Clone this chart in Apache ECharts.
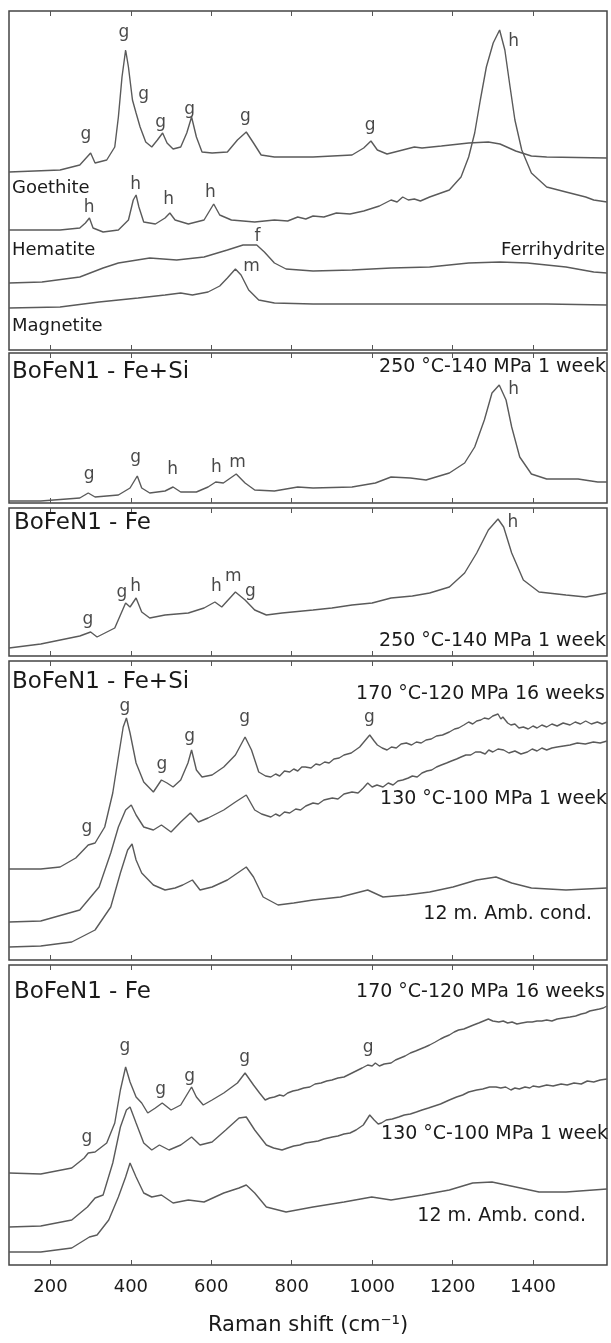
<!DOCTYPE html>
<html>
<head>
<meta charset="utf-8">
<title>Raman spectra</title>
<script src="https://cdn.jsdelivr.net/npm/echarts@6/dist/echarts.min.js"></script>
<style>
  html, body { margin: 0; padding: 0; background: #fff; }
  #chart { width: 611px; height: 1343px; }
</style>
</head>
<body>
<div id="chart"></div>
<script>
// x ticks (Raman shift, cm-1)
const xTicks = [200, 400, 600, 800, 1000, 1200, 1400]

// panel 1 - reference minerals (intensity in arbitrary units)
const goethite = [[97,178],[224,180],[273,185],[300,197],[311,187],[340,190],[360,203],[369,233],[378,273],[387,300],[394,283],[404,250],[413,237],[423,223],[437,208],[452,203],[466,210],[479,217],[490,207],[505,201],[524,203],[539,217],[551,233],[563,213],[577,198],[602,197],[640,198],[665,210],[687,218],[705,207],[724,195],[757,193],[853,193],[950,195],[979,202],[997,209],[1013,200],[1037,196],[1076,200],[1105,203],[1124,202],[1172,204],[1240,207],[1289,208],[1318,206],[1357,199],[1396,194],[1434,193],[1584,192]]
const hematite = [[97,120],[224,120],[273,122],[287,127],[297,132],[306,122],[331,118],[369,120],[394,130],[406,150],[413,155],[420,143],[432,128],[461,126],[485,132],[497,137],[510,130],[543,126],[582,130],[597,140],[606,146],[621,135],[650,130],[708,128],[757,130],[790,129],[815,133],[835,131],[853,134],[880,133],[911,137],[945,136],[979,139],[1018,144],[1047,150],[1062,148],[1076,153],[1090,150],[1105,151],[1120,149],[1143,153],[1192,160],[1221,173],[1240,193],[1255,217],[1269,250],[1284,283],[1301,307],[1317,320],[1330,300],[1343,263],[1355,230],[1372,200],[1396,177],[1434,163],[1482,158],[1531,153],[1551,150],[1584,148]]
const ferrihydrite = [[97,67],[179,68],[273,73],[331,82],[369,87],[447,92],[514,90],[582,93],[640,100],[679,105],[713,105],[732,98],[757,87],[786,81],[853,79],[950,80],[1047,82],[1143,83],[1240,87],[1318,88],[1386,87],[1482,83],[1551,78],[1584,77]]
const magnetite = [[97,42],[224,43],[321,48],[418,52],[485,55],[524,57],[553,55],[592,58],[621,64],[640,72],[660,81],[674,75],[693,60],[718,50],[757,47],[853,46],[1047,46],[1240,46],[1434,46],[1584,45]]

// panel 2 - BoFeN1 Fe+Si, 250 C
const feSi250 = [[97,2],[176,2],[273,5],[294,10],[311,6],[369,8],[398,15],[416,27],[427,15],[447,10],[485,12],[505,16],[524,11],[563,11],[592,16],[611,21],[630,20],[662,29],[684,20],[708,13],[757,12],[815,16],[853,15],[950,16],[1008,20],[1047,26],[1095,25],[1134,23],[1192,30],[1230,40],[1255,56],[1279,83],[1298,110],[1316,118],[1333,103],[1347,76],[1367,46],[1396,29],[1434,24],[1512,24],[1561,21],[1584,21]]

// panel 3 - BoFeN1 Fe, 250 C
const fe250 = [[97,8],[176,12],[273,20],[300,24],[316,19],[360,28],[387,53],[398,49],[413,58],[427,44],[447,38],[485,41],[543,43],[582,48],[609,54],[626,49],[660,64],[684,56],[708,46],[737,41],[776,43],[853,46],[900,48],[950,51],[1000,53],[1047,58],[1100,60],[1143,63],[1192,69],[1230,83],[1260,103],[1289,126],[1313,137],[1327,129],[1347,103],[1376,76],[1415,64],[1482,61],[1531,59],[1584,63]]

// panel 4 - BoFeN1 Fe+Si, three conditions
const feSi170 = [[97,91],[176,91],[224,93],[263,102],[294,115],[311,117],[335,133],[355,167],[369,203],[381,233],[389,242],[398,227],[413,197],[432,178],[456,168],[476,180],[490,177],[505,173],[524,180],[542,197],[551,210],[563,190],[577,183],[602,185],[631,193],[660,205],[684,223],[700,210],[718,188],[735,184],[748,183],[760,186],[770,184],[782,189],[795,188],[805,191],[815,189],[825,193],[834,193],[848,192],[860,196],[870,195],[882,198],[893,197],[905,201],[918,202],[930,205],[948,207],[969,213],[994,225],[1005,219],[1013,215],[1025,212],[1037,210],[1048,213],[1060,212],[1072,216],[1085,217],[1098,215],[1110,218],[1122,217],[1134,220],[1147,221],[1160,224],[1175,225],[1192,228],[1205,231],[1215,232],[1228,235],[1240,238],[1250,236],[1260,239],[1270,240],[1279,242],[1290,241],[1300,244],[1313,246],[1320,241],[1325,243],[1337,237],[1345,235],[1355,236],[1365,232],[1376,233],[1388,231],[1400,234],[1410,232],[1422,235],[1434,233],[1447,236],[1460,234],[1475,237],[1492,235],[1505,238],[1518,236],[1531,239],[1545,236],[1560,238],[1572,236],[1584,238]]
const feSi130 = [[97,38],[176,39],[273,50],[321,73],[350,107],[369,133],[387,150],[401,155],[413,145],[432,133],[456,130],[476,135],[500,128],[524,138],[548,147],[568,138],[592,142],[631,150],[660,158],[687,165],[708,150],[725,146],[748,143],[760,146],[770,144],[782,148],[795,147],[810,151],[822,150],[835,154],[853,157],[866,156],[880,160],[901,162],[915,161],[930,166],[950,168],[965,167],[978,172],[989,177],[1000,173],[1012,175],[1027,173],[1040,177],[1052,175],[1064,179],[1076,180],[1090,182],[1100,184],[1112,183],[1124,187],[1136,189],[1148,190],[1160,193],[1172,195],[1185,197],[1197,199],[1210,201],[1221,203],[1233,205],[1245,205],[1257,208],[1269,208],[1281,206],[1290,210],[1300,208],[1313,211],[1327,210],[1340,207],[1355,209],[1370,206],[1386,208],[1398,211],[1410,209],[1422,212],[1434,210],[1447,212],[1460,213],[1476,214],[1492,215],[1510,217],[1530,216],[1550,218],[1567,217],[1584,219]]
const feSiAmb = [[97,13],[176,14],[253,18],[311,30],[350,53],[374,87],[392,110],[403,116],[413,100],[427,87],[456,75],[485,70],[510,72],[529,75],[553,80],[572,70],[602,73],[640,80],[669,88],[687,93],[705,83],[729,63],[766,55],[805,57],[853,60],[921,63],[989,70],[1027,63],[1085,65],[1143,68],[1201,73],[1260,80],[1308,83],[1347,77],[1396,72],[1482,70],[1584,72]]

// panel 5 - BoFeN1 Fe, three conditions
const fe170 = [[97,92],[176,91],[253,97],[284,107],[294,112],[311,113],[340,122],[360,142],[374,175],[387,198],[398,183],[413,168],[427,162],[442,152],[461,157],[478,162],[500,155],[524,160],[542,172],[551,178],[563,168],[580,160],[602,165],[631,172],[665,182],[684,192],[705,180],[720,172],[734,165],[745,167],[757,168],[770,170],[780,169],[790,172],[803,174],[815,175],[830,177],[845,178],[858,181],[873,182],[887,184],[900,185],[915,187],[930,188],[945,191],[960,194],[975,197],[989,200],[1000,199],[1008,202],[1018,199],[1030,201],[1047,202],[1058,205],[1070,207],[1082,209],[1095,212],[1108,214],[1120,216],[1132,218],[1143,220],[1157,223],[1170,226],[1180,228],[1192,230],[1204,233],[1215,235],[1228,236],[1240,238],[1252,240],[1265,242],[1277,244],[1289,246],[1300,244],[1315,243],[1326,244],[1337,242],[1348,243],[1360,241],[1372,242],[1386,243],[1398,243],[1410,244],[1422,244],[1434,245],[1447,244],[1460,246],[1476,247],[1492,248],[1506,249],[1520,251],[1531,252],[1541,254],[1553,255],[1565,256],[1575,257],[1584,259]]
const fe130 = [[97,38],[176,39],[253,45],[292,58],[311,67],[331,70],[355,102],[374,138],[389,155],[398,158],[413,142],[432,122],[452,115],[471,120],[495,115],[524,120],[551,128],[572,120],[602,123],[636,135],[669,147],[687,148],[708,135],[737,120],[755,117],[776,115],[790,117],[805,119],[820,120],[834,122],[850,123],[866,124],[880,126],[901,128],[915,129],[930,131],[945,132],[960,135],[978,140],[994,150],[1005,145],[1015,141],[1023,142],[1035,145],[1050,146],[1066,148],[1080,150],[1095,151],[1110,153],[1124,155],[1140,157],[1155,159],[1170,161],[1192,165],[1210,168],[1225,170],[1240,173],[1260,175],[1275,176],[1292,178],[1308,178],[1320,177],[1332,178],[1345,175],[1355,177],[1366,176],[1380,178],[1392,177],[1400,179],[1415,178],[1434,180],[1450,179],[1470,181],[1485,180],[1502,182],[1520,181],[1535,184],[1551,183],[1567,185],[1584,186]]
const feAmb = [[97,13],[176,13],[253,17],[297,28],[316,30],[345,45],[369,68],[387,88],[398,102],[413,88],[432,72],[452,68],[476,70],[505,62],[543,65],[582,63],[631,72],[669,77],[687,80],[708,72],[737,58],[786,53],[853,58],[930,63],[999,68],[1047,65],[1124,70],[1192,75],[1250,82],[1298,83],[1357,78],[1415,73],[1482,73],[1584,76]]

// peak letters: [Raman shift, height, letter]
const peaksRef = [[288,215,'g'],[383,317,'g'],[432,255,'g'],[474,227,'g'],[546,240,'g'],[685,233,'g'],[995,224,'g'],[1352,308,'h'],[296,142,'h'],[412,165,'h'],[494,150,'h'],[598,157,'h'],[715,113,'f'],[700,83,'m']]
const peaksFeSi250 = [[296,28,'g'],[412,45,'g'],[504,33,'h'],[613,35,'h'],[665,40,'m'],[1352,113,'h']]
const peaksFe250 = [[293,36,'g'],[378,63,'g'],[412,69,'h'],[613,69,'h'],[655,79,'m'],[697,64,'g'],[1350,133,'h']]
const peaksFeSi = [[385,253,'g'],[477,195,'g'],[546,223,'g'],[683,242,'g'],[993,242,'g'],[291,132,'g']]
const peaksFe = [[385,218,'g'],[474,175,'g'],[546,188,'g'],[683,207,'g'],[990,217,'g'],[291,127,'g']]

const panels = [
  { top: 11, height: 339, lines: [goethite, hematite, ferrihydrite, magnetite], peaks: peaksRef },
  { top: 353, height: 150, lines: [feSi250], peaks: peaksFeSi250 },
  { top: 508, height: 148, lines: [fe250], peaks: peaksFe250 },
  { top: 661, height: 299, lines: [feSi170, feSi130, feSiAmb], peaks: peaksFeSi },
  { top: 965, height: 300, lines: [fe170, fe130, feAmb], peaks: peaksFe }
]

const lineColor = '#5a5a5a'
const textColor = '#1a1a1a'
const font = '"DejaVu Sans", sans-serif'

const grid = []
const xAxis = []
const yAxis = []
const series = []

panels.forEach((p, i) => {
  grid.push({
    left: 9, right: 4, top: p.top, height: p.height,
    show: true, borderColor: '#444', borderWidth: 1.5
  })
  const last = i === panels.length - 1
  // bottom axis, carries the data
  xAxis.push({
    gridIndex: i, type: 'value', min: 97, max: 1584, position: 'bottom',
    axisLine: { show: false },
    axisTick: { show: true, inside: true, length: 5, customValues: xTicks, lineStyle: { color: '#555' } },
    axisLabel: {
      show: last, customValues: xTicks, formatter: v => String(v),
      fontSize: 18, color: textColor, fontFamily: font, margin: 13
    },
    splitLine: { show: false },
    name: last ? 'Raman shift (cm\u207B\u00B9)' : '',
    nameLocation: 'middle', nameGap: 50,
    nameTextStyle: { fontSize: 21, color: textColor, fontFamily: font }
  })
  // top axis, only ticks
  xAxis.push({
    gridIndex: i, type: 'value', min: 97, max: 1584, position: 'top',
    axisLine: { show: false },
    axisTick: { show: true, inside: true, length: 5, customValues: xTicks, lineStyle: { color: '#555' } },
    axisLabel: { show: false },
    splitLine: { show: false }
  })
  yAxis.push({ gridIndex: i, type: 'value', min: 0, max: p.height, show: false })

  p.lines.forEach(d => {
    series.push({
      type: 'line', xAxisIndex: i * 2, yAxisIndex: i, data: d,
      showSymbol: false, symbol: 'none', silent: true,
      lineStyle: { color: lineColor, width: 1.4 }
    })
  })
  series.push({
    type: 'scatter', xAxisIndex: i * 2, yAxisIndex: i, data: p.peaks,
    symbolSize: 0, silent: true,
    label: {
      show: true, position: 'inside', formatter: q => q.data[2],
      fontSize: 17, color: textColor, fontFamily: font
    }
  })
})

// panel captions
function caption(text, pos, size) {
  return Object.assign({
    type: 'text', z: 100,
    style: { text: text, font: size + 'px ' + font, fill: textColor }
  }, pos)
}
const graphic = [
  caption('Goethite', { left: 12, top: 179 }, 18),
  caption('Hematite', { left: 12, top: 241 }, 18),
  caption('Ferrihydrite', { right: 6, top: 241 }, 18),
  caption('Magnetite', { left: 12, top: 317 }, 18),
  caption('BoFeN1 - Fe+Si', { left: 12, top: 361 }, 23),
  caption('250 °C-140 MPa 1 week', { right: 5, top: 358 }, 19),
  caption('BoFeN1 - Fe', { left: 14, top: 512 }, 23),
  caption('250 °C-140 MPa 1 week', { right: 5, top: 632 }, 19),
  caption('BoFeN1 - Fe+Si', { left: 12, top: 671 }, 23),
  caption('170 °C-120 MPa 16 weeks', { right: 6, top: 685 }, 19),
  caption('130 °C-100 MPa 1 week', { right: 4, top: 790 }, 19),
  caption('12 m. Amb. cond.', { right: 19, top: 905 }, 19),
  caption('BoFeN1 - Fe', { left: 14, top: 981 }, 23),
  caption('170 °C-120 MPa 16 weeks', { right: 6, top: 983 }, 19),
  caption('130 °C-100 MPa 1 week', { right: 3, top: 1125 }, 19),
  caption('12 m. Amb. cond.', { right: 25, top: 1207 }, 19)
]

const chart = echarts.init(document.getElementById('chart'))
chart.setOption({
  animation: false,
  backgroundColor: '#fff',
  grid: grid,
  xAxis: xAxis,
  yAxis: yAxis,
  series: series,
  graphic: graphic
})
</script>
</body>
</html>
